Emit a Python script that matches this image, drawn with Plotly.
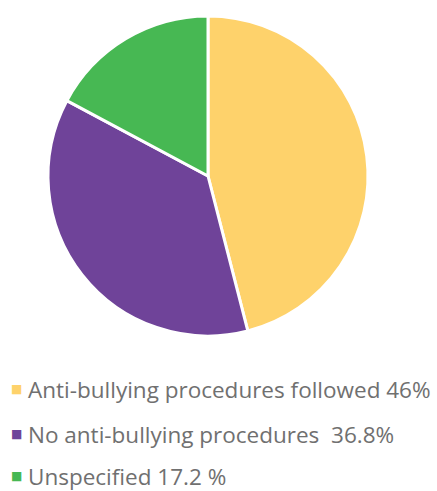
import plotly.graph_objects as go

# Survey breakdown
labels = ["Anti-bullying procedures followed", "No anti-bullying procedures", "Unspecified"]
values = [46, 36.8, 17.2]
legend_text = ["Anti-bullying procedures followed 46%",
               "No anti-bullying procedures  36.8%",
               "Unspecified 17.2 %"]
colors = ["#FED26B", "#6F4399", "#47B853"]

W, H = 437, 491

fig = go.Figure(go.Pie(
    labels=labels,
    values=values,
    sort=False,
    direction="clockwise",
    rotation=0,
    marker=dict(colors=colors, line=dict(color="white", width=3)),
    textinfo="none",
    hoverinfo="label+percent",
    showlegend=False,
    domain=dict(x=[48 / W, 368 / W], y=[1 - 336 / H, 1 - 16 / H]),
))

# Custom legend rows (centre line of each row, in pixels from the top)
row_y = [389, 434, 476]
for txt, col, yc in zip(legend_text, colors, row_y):
    fig.add_annotation(
        x=16 / W, y=1 - yc / H, xref="paper", yref="paper",
        xanchor="center", yanchor="middle", showarrow=False,
        text="■", font=dict(family="DejaVu Sans", size=12, color=col),
    )
    fig.add_annotation(
        x=27 / W, y=1 - yc / H, xref="paper", yref="paper",
        xanchor="left", yanchor="middle", showarrow=False,
        borderpad=0,
        text=txt, font=dict(family="Open Sans", size=22.5, color="#707070"),
    )

fig.update_layout(
    width=W, height=H,
    margin=dict(l=0, r=0, t=0, b=0),
    paper_bgcolor="white",
    plot_bgcolor="white",
)

fig.write_html("out.html")
